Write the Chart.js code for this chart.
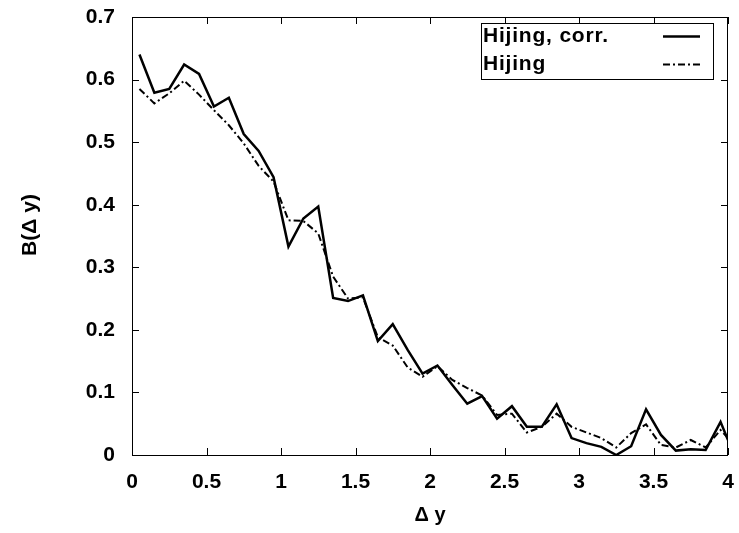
<!DOCTYPE html>
<html>
<head>
<meta charset="utf-8">
<title>B(Δy) balance function</title>
<script src="https://cdn.jsdelivr.net/npm/chart.js@4"></script>
<style>
  html, body { margin: 0; padding: 0; background: #fff; }
  canvas { display: block; }
</style>
</head>
<body>
<canvas id="bf" width="739" height="533"></canvas>
<script>
// rapidity-gap bin centres (last entry is the axis edge)
const dyBins = [0.05, 0.15, 0.25, 0.35, 0.45, 0.55, 0.65, 0.75, 0.85, 0.95,
                1.05, 1.15, 1.25, 1.35, 1.45, 1.55, 1.65, 1.75, 1.85, 1.95,
                2.05, 2.15, 2.25, 2.35, 2.45, 2.55, 2.65, 2.75, 2.85, 2.95,
                3.05, 3.15, 3.25, 3.35, 3.45, 3.55, 3.65, 3.75, 3.85, 3.95, 4.0];

// Hijing, corrected
const hijingCorr = [0.640, 0.579, 0.585, 0.624, 0.609, 0.557, 0.571, 0.513, 0.486, 0.444,
                    0.333, 0.378, 0.397, 0.251, 0.246, 0.255, 0.182, 0.209, 0.168, 0.130,
                    0.143, 0.112, 0.082, 0.094, 0.058, 0.078, 0.045, 0.045, 0.081, 0.027,
                    0.019, 0.013, 0.000, 0.014, 0.073, 0.032, 0.007, 0.009, 0.008, 0.053, 0.024];

// Hijing, raw
const hijingRaw = [0.585, 0.562, 0.578, 0.598, 0.576, 0.551, 0.527, 0.498, 0.462, 0.437,
                   0.375, 0.374, 0.354, 0.285, 0.250, 0.252, 0.188, 0.175, 0.140, 0.125,
                   0.142, 0.120, 0.107, 0.095, 0.064, 0.066, 0.036, 0.045, 0.066, 0.045,
                   0.036, 0.027, 0.012, 0.035, 0.049, 0.016, 0.012, 0.024, 0.012, 0.040, 0.027];

const xTicks = [0, 0.5, 1, 1.5, 2, 2.5, 3, 3.5, 4];
const yTicks = [0, 0.1, 0.2, 0.3, 0.4, 0.5, 0.6, 0.7];

const FONT = 'Liberation Sans, Arial, Helvetica, sans-serif';
const toPoints = ys => dyBins.map((x, i) => ({ x, y: ys[i] }));
const fmt = v => String(+v.toFixed(1));

// gnuplot-style frame: box, inward ticks on all four sides, boxed key, y title
const framePlugin = {
  id: 'frame',
  afterDraw(chart) {
    const { ctx, chartArea: a, scales } = chart;
    const tick = 7;
    ctx.save();
    ctx.strokeStyle = '#000';
    ctx.lineWidth = 1;
    ctx.strokeRect(a.left + 0.5, a.top + 0.5, a.right - a.left - 1, a.bottom - a.top);

    ctx.beginPath();
    yTicks.forEach(v => {
      const py = Math.round(scales.y.getPixelForValue(v)) + 0.5;
      ctx.moveTo(a.left, py); ctx.lineTo(a.left + tick, py);
      ctx.moveTo(a.right, py); ctx.lineTo(a.right - tick, py);
    });
    xTicks.forEach(v => {
      const px = Math.round(scales.x.getPixelForValue(v)) + 0.5;
      ctx.moveTo(px, a.bottom); ctx.lineTo(px, a.bottom - tick);
      ctx.moveTo(px, a.top); ctx.lineTo(px, a.top + tick);
    });
    ctx.stroke();

    // key
    const kx = 481, ky = 23, kw = 232, kh = 56;
    ctx.fillStyle = '#fff';
    ctx.fillRect(kx, ky, kw, kh);
    ctx.strokeRect(kx + 0.5, ky + 0.5, kw, kh);
    ctx.font = 'bold 21px ' + FONT;
    ctx.letterSpacing = '0.8px';
    ctx.textBaseline = 'middle';
    ctx.fillStyle = '#000';
    chart.data.datasets.forEach((ds, i) => {
      const ry = ky + 13 + i * 28;
      ctx.fillText(ds.label, kx + 2, ry);
      ctx.save();
      ctx.lineWidth = ds.borderWidth;
      ctx.setLineDash(ds.borderDash || []);
      ctx.beginPath();
      ctx.moveTo(663, ry + 0.5);
      ctx.lineTo(700, ry + 0.5);
      ctx.stroke();
      ctx.restore();
    });

    // y axis title
    ctx.letterSpacing = '0px';
    ctx.translate(30, 225);
    ctx.rotate(-Math.PI / 2);
    ctx.textAlign = 'center';
    ctx.fillText('B(Δ y)', 0, 0);
    ctx.restore();
  }
};

new Chart(document.getElementById('bf'), {
  type: 'line',
  data: {
    datasets: [
      { label: 'Hijing, corr.', data: toPoints(hijingCorr), borderColor: '#000',
        borderWidth: 2.5, pointRadius: 0, tension: 0, fill: false },
      { label: 'Hijing', data: toPoints(hijingRaw), borderColor: '#000',
        borderWidth: 2, borderDash: [7, 3, 2, 3], pointRadius: 0, tension: 0, fill: false }
    ]
  },
  options: {
    responsive: false,
    animation: false,
    devicePixelRatio: 1,
    layout: { padding: { top: 17, right: 11, left: 0, bottom: 0 } },
    plugins: { legend: { display: false }, tooltip: { enabled: false } },
    scales: {
      x: {
        type: 'linear', min: 0, max: 4,
        afterBuildTicks: s => { s.ticks = xTicks.map(value => ({ value })); },
        afterFit: s => { s.height = 78; s.paddingLeft = 0; s.paddingRight = 0; },
        grid: { display: false, drawTicks: false, tickLength: 0 },
        border: { display: false },
        ticks: { color: '#000', padding: 15, maxRotation: 0, callback: fmt,
                 font: { family: FONT, size: 21, weight: 'bold' } },
        title: { display: true, text: 'Δ y', color: '#000', padding: { top: 0, bottom: 6 },
                 font: { family: FONT, size: 20, weight: 'bold' } }
      },
      y: {
        type: 'linear', min: 0, max: 0.7,
        afterBuildTicks: s => { s.ticks = yTicks.map(value => ({ value })); },
        afterFit: s => { s.width = 132; s.paddingTop = 0; s.paddingBottom = 0; },
        grid: { display: false, drawTicks: false, tickLength: 0 },
        border: { display: false },
        ticks: { color: '#000', padding: 17, callback: fmt,
                 font: { family: FONT, size: 21, weight: 'bold' } }
      }
    }
  },
  plugins: [framePlugin]
});
</script>
</body>
</html>
